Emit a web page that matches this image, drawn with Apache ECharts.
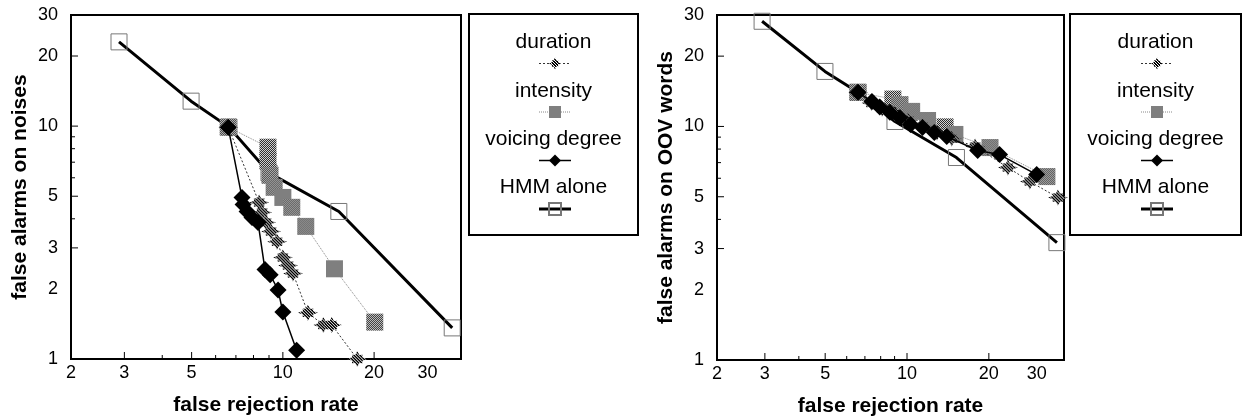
<!DOCTYPE html>
<html>
<head>
<meta charset="utf-8">
<script src="https://cdn.jsdelivr.net/npm/echarts@6/dist/echarts.min.js"></script>
<style>
html, body { margin: 0; padding: 0; background: #fff; }
#chart { width: 1243px; height: 419px; }
</style>
</head>
<body>
<div id="chart"></div>
<script>
// [false rejection rate, false alarms] pairs
const noiseDuration = [[6.6, 9.9], [8.35, 4.7], [8.54, 4.26], [8.8, 3.86], [9.14, 3.53], [9.57, 3.19], [10.0, 2.73], [10.4, 2.52], [10.8, 2.33], [12.1, 1.58], [13.6, 1.4], [14.5, 1.4], [17.6, 1.0]];
const noiseIntensity = [[6.6, 9.9], [8.93, 8.12], [8.93, 7.07], [9.07, 6.15], [9.36, 5.46], [10.0, 4.94], [10.7, 4.48], [11.9, 3.71], [14.8, 2.44], [20.1, 1.44]];
const noiseVoicing = [[6.6, 9.9], [7.33, 4.94], [7.39, 4.61], [7.62, 4.3], [7.91, 4.05], [8.28, 3.86], [8.73, 2.42], [9.08, 2.3], [9.64, 1.98], [10.0, 1.59], [11.1, 1.09]];
const noiseHmm = [[2.88, 23.0], [4.98, 12.8], [6.64, 9.9], [9.0, 6.3], [15.3, 4.3], [36.2, 1.36]];

const oovDuration = [[6.6, 14.0], [7.4, 12.6], [8.1, 11.9], [9.03, 11.3], [10.1, 10.6], [11.4, 10.0], [12.9, 9.43], [14.6, 8.88], [17.8, 8.21], [23.5, 6.67], [28.3, 5.81], [35.9, 4.96]];
const oovIntensity = [[6.6, 14.0], [8.87, 13.1], [9.42, 12.4], [10.4, 11.6], [11.9, 10.6], [13.8, 9.96], [15.0, 9.24], [20.2, 8.12], [32.7, 6.1]];
const oovVoicing = [[6.6, 14.0], [7.43, 12.8], [7.94, 12.1], [8.65, 11.5], [9.42, 10.9], [10.3, 10.2], [11.4, 9.9], [12.6, 9.43], [14.0, 9.06], [18.2, 7.89], [21.9, 7.58], [30.0, 6.22]];
const oovHmm = [[2.93, 28.2], [4.99, 17.2], [6.6, 14.0], [9.03, 10.5], [15.2, 7.36], [35.6, 3.18]];

const legendNames = ['duration', 'intensity', 'voicing degree', 'HMM alone'];
const xLabelValues = [2, 3, 5, 10, 20, 30];
const yLabelValues = [1, 2, 3, 5, 10, 20, 30];
const majorTicks = [3, 5, 10, 20];
const minorTicks = [4, 6, 7, 8, 9];

const X_MIN = 2, Y_MIN = 1, Y_MAX = 30;
const lg = Math.log10;
const FONT = 'Liberation Sans';

function makePattern(size, cells, sx, sy) {
  const c = document.createElement('canvas');
  c.width = c.height = size;
  const ctx = c.getContext('2d');
  ctx.fillStyle = '#fff';
  ctx.fillRect(0, 0, size, size);
  ctx.fillStyle = '#000';
  cells.forEach(([x, y]) => ctx.fillRect(x, y, 1, 1));
  return { image: c, repeat: 'repeat', scaleX: sx, scaleY: sy };
}
const CHECK_CELLS = [[0, 0], [1, 1]];
const HATCH_CELLS = [[0, 0], [1, 1], [2, 2], [1, 0], [2, 1], [0, 2]];
const STAR_SIZE = [20, 16];
// series symbols are drawn at unit size and scaled up, so undo that on the pattern
const checker = makePattern(2, CHECK_CELLS, 2 / 17, 2 / 17);
const hatch = makePattern(3, HATCH_CELLS, 2 / STAR_SIZE[0], 2 / STAR_SIZE[1]);
const checkerFlat = makePattern(2, CHECK_CELLS, 1, 1);
const hatchFlat = makePattern(3, HATCH_CELLS, 1, 1);

// spiky 8-point star for the duration marker
function starPath() {
  const pts = [];
  for (let i = 0; i < 16; i++) {
    const a = Math.PI * i / 8;
    const r = i % 2 ? 0.55 : (i % 4 === 0 ? 1 : 0.75);
    pts.push((50 + 50 * r * Math.cos(a)).toFixed(1) + ',' + (50 + 50 * r * Math.sin(a)).toFixed(1));
  }
  return 'path://M' + pts.join('L') + 'Z';
}
const STAR = starPath();

const titleStyle = { color: '#000', fontFamily: FONT, fontSize: 21, fontWeight: 'bold' };
const labelFmt = v => String(Math.round(Math.pow(10, v)));

// extra value axis whose labels are little black bars, used as inward ticks
function tickAxis(gridIndex, lo, hi, pos, vals, len) {
  const vertical = pos === 'left';
  return {
    type: 'value', gridIndex, min: lg(lo), max: lg(hi), position: pos,
    splitLine: { show: false }, axisLine: { show: false }, axisTick: { show: false },
    axisLabel: {
      customValues: vals.map(lg), margin: -len, formatter: () => '{t| }',
      rich: { t: vertical
        ? { width: len, height: 1, lineHeight: 1, fontSize: 1, backgroundColor: '#000' }
        : { width: 1, height: len, lineHeight: len, fontSize: 1, backgroundColor: '#000' } },
    },
  };
}

function axesFor(gridIndex, xMax, yName) {
  const xs = [
    { type: 'log', logBase: 10, gridIndex, min: X_MIN, max: xMax, position: 'bottom', show: false },
    {
      type: 'value', gridIndex, min: lg(X_MIN), max: lg(xMax), position: 'bottom',
      splitLine: { show: false }, axisTick: { show: false },
      axisLine: { show: true, onZero: false, lineStyle: { color: '#000', width: 2 } },
      axisLabel: { customValues: xLabelValues.map(lg), formatter: labelFmt, color: '#000', fontFamily: FONT, fontSize: 18, margin: 5 },
      name: 'false rejection rate', nameLocation: 'middle', nameGap: 36, nameTextStyle: titleStyle,
    },
    tickAxis(gridIndex, X_MIN, xMax, 'bottom', majorTicks, 7),
    tickAxis(gridIndex, X_MIN, xMax, 'bottom', minorTicks, 4),
  ];
  const ys = [
    { type: 'log', logBase: 10, gridIndex, min: Y_MIN, max: Y_MAX, position: 'left', show: false },
    {
      type: 'value', gridIndex, min: lg(Y_MIN), max: lg(Y_MAX), position: 'left',
      splitLine: { show: false }, axisTick: { show: false },
      axisLine: { show: true, onZero: false, lineStyle: { color: '#000', width: 2 } },
      axisLabel: { customValues: yLabelValues.map(lg), formatter: labelFmt, color: '#000', fontFamily: FONT, fontSize: 18, margin: 13 },
      name: yName, nameLocation: 'middle', nameGap: 40, nameTextStyle: titleStyle,
    },
    tickAxis(gridIndex, Y_MIN, Y_MAX, 'left', majorTicks, 7),
    tickAxis(gridIndex, Y_MIN, Y_MAX, 'left', minorTicks, 4),
  ];
  return { xs, ys };
}

const durLine = { color: '#333', width: 1, type: [2, 2] };
const intLine = { color: '#888', width: 1, type: [1, 1] };
const voiLine = { color: '#000', width: 1.5 };
const hmmLine = { color: '#000', width: 3 };

function seriesFor(axisIndex, dur, inten, voic, hmm) {
  const base = { type: 'line', xAxisIndex: axisIndex, yAxisIndex: axisIndex, animation: false, showSymbol: true, clip: false };
  return [
    Object.assign({}, base, {
      name: legendNames[0], data: dur, z: 3,
      symbol: STAR, symbolSize: STAR_SIZE,
      itemStyle: { color: hatch },
      lineStyle: durLine,
    }),
    Object.assign({}, base, {
      name: legendNames[1], data: inten, z: 2,
      symbol: 'rect', symbolSize: 17,
      itemStyle: { color: checker },
      lineStyle: intLine,
    }),
    Object.assign({}, base, {
      name: legendNames[2], data: voic, z: 4,
      symbol: 'diamond', symbolSize: 17,
      itemStyle: { color: '#000' },
      lineStyle: voiLine,
    }),
    Object.assign({}, base, {
      name: legendNames[3], data: hmm, z: 1,
      symbol: 'rect', symbolSize: 16,
      itemStyle: { color: 'rgba(0,0,0,0)', borderColor: '#777', borderWidth: 1 },
      lineStyle: hmmLine,
    }),
  ];
}

const left = axesFor(0, 38.7, 'false alarms on noises');
const right = axesFor(1, 37.8, 'false alarms on OOV words');

function legendBox(x, w) {
  const cx = x + w / 2;
  const textYs = [42, 91, 139.5, 187.5];
  const items = [{
    type: 'rect', shape: { x: x, y: 14, width: w, height: 221 },
    style: { fill: 'none', stroke: '#000', lineWidth: 2 },
  }];
  legendNames.forEach((n, i) => items.push({
    type: 'text', x: cx, y: textYs[i],
    style: { text: n, fontFamily: FONT, fontSize: 21, fill: '#000', align: 'center', verticalAlign: 'middle' },
  }));
  return items;
}

function legendIcons(cx) {
  return {
    orient: 'vertical', left: cx - 16, top: 56, padding: 0,
    itemWidth: 32, itemHeight: 15, itemGap: 35, selectedMode: false,
    formatter: () => '',
    data: [
      { name: legendNames[0], itemStyle: { color: hatchFlat }, lineStyle: durLine },
      { name: legendNames[1], itemStyle: { color: checkerFlat }, lineStyle: intLine },
      { name: legendNames[2], lineStyle: voiLine },
      { name: legendNames[3], lineStyle: hmmLine },
    ],
  };
}

const boxes = legendBox(469, 169).concat(legendBox(1070, 171));

const chart = echarts.init(document.getElementById('chart'));
chart.setOption({
  backgroundColor: '#fff',
  animation: false,
  grid: [
    { left: 71, top: 15, width: 390, height: 344, show: true, borderColor: '#000', borderWidth: 2, outerBoundsMode: 'none' },
    { left: 717, top: 15, width: 347, height: 345, show: true, borderColor: '#000', borderWidth: 2, outerBoundsMode: 'none' },
  ],
  xAxis: left.xs.concat(right.xs),
  yAxis: left.ys.concat(right.ys),
  legend: [legendIcons(553.5), legendIcons(1155.5)],
  graphic: boxes,
  series: seriesFor(0, noiseDuration, noiseIntensity, noiseVoicing, noiseHmm)
    .concat(seriesFor(4, oovDuration, oovIntensity, oovVoicing, oovHmm)),
});

// a second pass so the tick-bar labels get laid out
chart.setOption({ graphic: boxes.concat([{ type: 'text', x: 700, y: 395, style: { text: '', fontSize: 10, fill: '#fff' } }]) });
</script>
</body>
</html>
